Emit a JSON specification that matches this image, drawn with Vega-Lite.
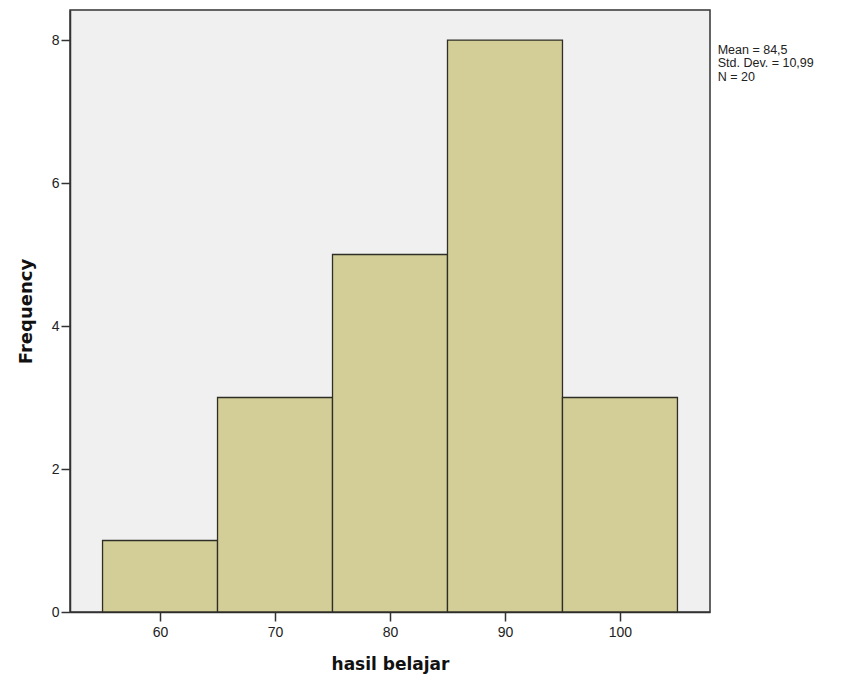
{
  "$schema": "https://vega.github.io/schema/vega-lite/v6.json",
  "width": 640,
  "height": 602,
  "autosize": {"type": "none"},
  "padding": {"left": 70, "top": 10, "right": 140, "bottom": 71},
  "background": "#ffffff",
  "config": {
    "view": {"fill": "#f0f0f0", "stroke": "#333333", "strokeWidth": 1.5},
    "axis": {
      "grid": false,
      "domainColor": "#333333",
      "tickColor": "#333333",
      "labelColor": "#222222",
      "labelFont": "Liberation Sans",
      "labelFontSize": 14,
      "titleFont": "DejaVu Sans",
      "titleFontWeight": "bold",
      "titleFontSize": 17,
      "titleColor": "#111111",
      "tickSize": 9,
      "tickWidth": 1.5,
      "domainWidth": 1.5
    }
  },
  "datasets": {
    "bins": [
      {"bin_start": 55, "bin_end": 65, "count": 1},
      {"bin_start": 65, "bin_end": 75, "count": 3},
      {"bin_start": 75, "bin_end": 85, "count": 5},
      {"bin_start": 85, "bin_end": 95, "count": 8},
      {"bin_start": 95, "bin_end": 105, "count": 3}
    ],
    "stats": [
      {"lines": ["Mean = 84,5", "Std. Dev. = 10,99", "N = 20"], "sx": 108.5, "sy": 7.95}
    ]
  },
  "layer": [
    {
      "data": {"name": "bins"},
      "mark": {"type": "rect", "fill": "#d3ce98", "stroke": "#2e2e26", "strokeWidth": 1.3},
      "encoding": {
        "x": {
          "field": "bin_start",
          "type": "quantitative",
          "scale": {"domain": [52.17, 107.83], "nice": false, "zero": false},
          "axis": {"values": [60, 70, 80, 90, 100], "format": "d", "title": "hasil belajar", "labelPadding": 4, "titlePadding": 17}
        },
        "x2": {"field": "bin_end"},
        "y": {
          "field": "count",
          "type": "quantitative",
          "scale": {"domain": [0, 8.42], "nice": false},
          "axis": {"values": [0, 2, 4, 6, 8], "format": "d", "title": "Frequency", "labelPadding": 2, "titlePadding": 16, "titleFontSize": 18}
        },
        "y2": {"datum": 0}
      }
    },
    {
      "data": {"name": "stats"},
      "mark": {"type": "text", "align": "left", "baseline": "top", "font": "Liberation Sans", "fontSize": 12.5, "lineHeight": 13.5, "color": "#222222", "clip": false},
      "encoding": {
        "x": {"field": "sx", "type": "quantitative"},
        "y": {"field": "sy", "type": "quantitative"},
        "text": {"field": "lines"}
      }
    }
  ]
}
